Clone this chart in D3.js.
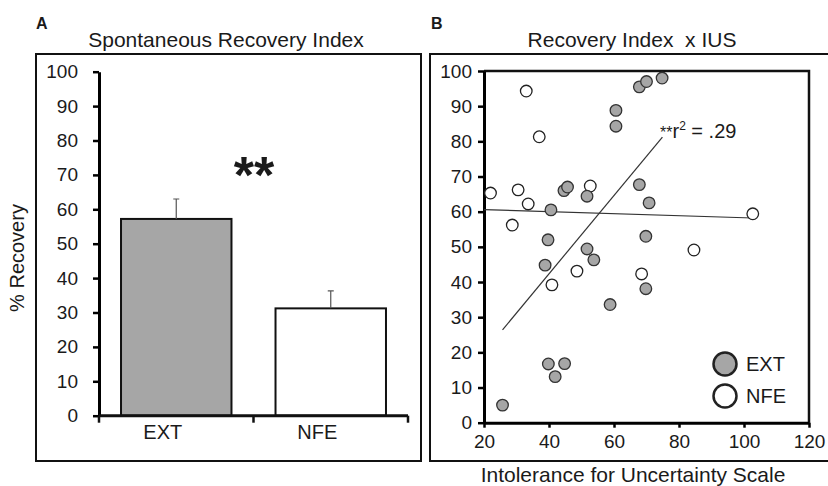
<!DOCTYPE html>
<html>
<head>
<meta charset="utf-8">
<script src="https://cdn.jsdelivr.net/npm/d3@7"></script>
<style>
  body { margin: 0; background: #fff; }
  svg text { font-family: "Liberation Sans", Arial, sans-serif; fill: #1a1a1a; }
</style>
</head>
<body>
<div id="vizcontainer"></div>
<script>
const width = 828,
  height = 486;

// panel A: spontaneous recovery index
const groups = ['EXT', 'NFE'];
const recoveryMean = [57.2, 31.2];
const recoverySem = [5.8, 5.1];
const yTicksA = [0, 10, 20, 30, 40, 50, 60, 70, 80, 90, 100];

// panel B: recovery index x IUS
const extIUS = [60.6, 60.6, 44.6, 45.7, 51.7, 40.6, 39.7, 67.8, 70.0, 74.8, 67.8,
  70.8, 69.8, 51.7, 53.8, 38.8, 58.8, 39.8, 44.8, 41.9, 25.7, 69.8];
const extRecovery = [88.8, 84.3, 66.0, 67.0, 64.4, 60.5, 52.0, 95.5, 97.0, 98.0, 67.7,
  62.5, 53.0, 49.4, 46.3, 44.8, 33.6, 16.7, 16.8, 13.1, 5.0, 38.1];
const nfeIUS = [33.0, 37.0, 22.0, 30.5, 33.6, 52.7, 28.7, 102.7, 48.6, 40.9, 84.6, 68.5];
const nfeRecovery = [94.3, 81.3, 65.3, 66.2, 62.2, 67.3, 56.2, 59.4, 43.1, 39.2, 49.1, 42.3];
// trend lines (IUS, recovery at both ends)
const fitExt = [[25.7, 26.4], [74.9, 81.2]];
const fitNfe = [[20, 60.6], [102.7, 58.2]];
const xTicksB = [20, 40, 60, 80, 100, 120];
const yTicksB = [0, 10, 20, 30, 40, 50, 60, 70, 80, 90, 100];

const grayFill = '#a6a6a6';

let svg = d3.select('#vizcontainer')
  .append('svg')
  .attr('width', width)
  .attr('height', height);

// outer frames
svg.append('rect').attr('x', 36).attr('y', 54).attr('width', 385).attr('height', 407)
  .attr('fill', 'none').attr('stroke', '#111').attr('stroke-width', 2);
svg.append('rect').attr('x', 430).attr('y', 54).attr('width', 420).attr('height', 407)
  .attr('fill', 'none').attr('stroke', '#111').attr('stroke-width', 2);

svg.append('text').attr('x', 36).attr('y', 29).style('font-size', '16px')
  .style('font-weight', 'bold').text('A');
svg.append('text').attr('x', 431).attr('y', 29).style('font-size', '16px')
  .style('font-weight', 'bold').text('B');

svg.append('text').attr('x', 226).attr('y', 47).attr('text-anchor', 'middle')
  .style('font-size', '21px').text('Spontaneous Recovery Index');
svg.append('text').attr('x', 632).attr('y', 47).attr('text-anchor', 'middle')
  .style('font-size', '21px').style('white-space', 'pre').text('Recovery Index  x IUS');

// ---------- panel A ----------
const xA = d3.scaleBand().domain(groups).range([99, 408])
  .paddingInner(0.285).paddingOuter(0.1425);
const yA = d3.scaleLinear().domain([0, 100]).range([415.7, 71.7]);

let gA = svg.append('g');

gA.selectAll('.bar')
  .data(groups)
  .join('rect')
  .attr('x', d => xA(d))
  .attr('y', (d, i) => yA(recoveryMean[i]))
  .attr('width', xA.bandwidth())
  .attr('height', (d, i) => yA(0) - yA(recoveryMean[i]))
  .attr('fill', (d, i) => i == 0 ? grayFill : '#fff')
  .attr('stroke', '#111')
  .attr('stroke-width', 2);

// error bars (upper only)
gA.selectAll('.err')
  .data(groups)
  .join('path')
  .attr('d', (d, i) => {
    let cx = xA(d) + xA.bandwidth() / 2,
      y0 = yA(recoveryMean[i]),
      y1 = yA(recoveryMean[i] + recoverySem[i]);
    return `M${cx},${y0}V${y1}M${cx - 3},${y1}H${cx + 3}`;
  })
  .attr('fill', 'none')
  .attr('stroke', '#555')
  .attr('stroke-width', 1.2);

gA.append('g')
  .attr('transform', 'translate(99,0)')
  .call(d3.axisLeft(yA).tickValues(yTicksA).tickSize(6).tickSizeOuter(0).tickPadding(15))
  .call(g => g.select('.domain').attr('stroke-width', 3))
  .call(g => g.selectAll('.tick line').attr('stroke-width', 2.5))
  .call(g => g.selectAll('text').style('font-size', '19px'));

// category axis with ticks at band boundaries
const bounds = [xA.range()[0], xA('NFE') - xA.step() * xA.paddingInner() / 2, xA.range()[1]];
gA.append('path')
  .attr('d', `M${bounds[0]},${yA(0)}H${bounds[2]}`)
  .attr('stroke', '#111').attr('stroke-width', 3);
gA.selectAll('.ctick')
  .data(bounds)
  .join('line')
  .attr('x1', d => d).attr('x2', d => d)
  .attr('y1', yA(0)).attr('y2', yA(0) + 7)
  .attr('stroke', '#111').attr('stroke-width', 2.5);
gA.selectAll('.clabel')
  .data(groups)
  .join('text')
  .attr('x', d => xA(d) + xA.bandwidth() / 2 - 13.5)
  .attr('y', 439)
  .attr('text-anchor', 'middle')
  .style('font-size', '20px')
  .text(d => d);

svg.append('text')
  .attr('transform', 'translate(24,258) rotate(-90)')
  .attr('text-anchor', 'middle')
  .style('font-size', '20px')
  .text('% Recovery');

svg.append('text')
  .attr('x', 254).attr('y', 193)
  .attr('text-anchor', 'middle')
  .style('font-size', '52px')
  .style('font-weight', 'bold')
  .text('**');

// ---------- panel B ----------
const xB = d3.scaleLinear().domain([20, 120]).range([484, 809]);
const yB = d3.scaleLinear().domain([0, 100]).range([422.7, 71]);

let gB = svg.append('g');

// plot frame (top and right)
gB.append('path')
  .attr('d', `M${xB(20)},${yB(100)}H${xB(120)}V${yB(0)}`)
  .attr('fill', 'none').attr('stroke', '#111').attr('stroke-width', 2.5);

gB.append('g')
  .attr('transform', `translate(${xB(20)},0)`)
  .call(d3.axisLeft(yB).tickValues(yTicksB).tickSize(6).tickSizeOuter(0).tickPadding(6))
  .call(g => g.select('.domain').attr('stroke-width', 3))
  .call(g => g.selectAll('.tick line').attr('stroke-width', 2.5))
  .call(g => g.selectAll('text').style('font-size', '19px'));

gB.append('g')
  .attr('transform', `translate(0,${yB(0)})`)
  .call(d3.axisBottom(xB).tickValues(xTicksB).tickSize(5).tickSizeOuter(0).tickPadding(7))
  .call(g => g.select('.domain').attr('stroke-width', 3))
  .call(g => g.selectAll('.tick line').attr('stroke-width', 2.5))
  .call(g => g.selectAll('text').style('font-size', '19px'));

const line = d3.line().x(d => xB(d[0])).y(d => yB(d[1]));
gB.selectAll('.fit')
  .data([fitNfe, fitExt])
  .join('path')
  .attr('d', line)
  .attr('fill', 'none')
  .attr('stroke', '#333')
  .attr('stroke-width', 1.2);

gB.selectAll('.nfe')
  .data(nfeIUS)
  .join('circle')
  .attr('cx', d => xB(d))
  .attr('cy', (d, i) => yB(nfeRecovery[i]))
  .attr('r', 5.8)
  .attr('fill', '#fff')
  .attr('stroke', '#222')
  .attr('stroke-width', 1.3);

gB.selectAll('.ext')
  .data(extIUS)
  .join('circle')
  .attr('cx', d => xB(d))
  .attr('cy', (d, i) => yB(extRecovery[i]))
  .attr('r', 5.8)
  .attr('fill', grayFill)
  .attr('stroke', '#333')
  .attr('stroke-width', 1.3);

svg.append('text')
  .attr('x', 660).attr('y', 138)
  .style('font-size', '20px')
  .html('<tspan style="font-size:16px">**</tspan>r<tspan dy="-8" style="font-size:12px">2</tspan><tspan dy="8"> = .29</tspan>');

// legend
const legend = [{ name: 'EXT', fill: grayFill }, { name: 'NFE', fill: '#fff' }];
let lg = gB.selectAll('.leg')
  .data(legend)
  .join('g')
  .attr('transform', (d, i) => `translate(725,${364 + i * 32})`);
lg.append('circle').attr('r', 11.5)
  .attr('fill', d => d.fill).attr('stroke', '#222').attr('stroke-width', 2.5);
lg.append('text').attr('x', 21).attr('y', 7).style('font-size', '20px').text(d => d.name);

svg.append('text')
  .attr('x', 633).attr('y', 482)
  .attr('text-anchor', 'middle')
  .style('font-size', '21px')
  .text('Intolerance for Uncertainty Scale');
</script>
</body>
</html>
